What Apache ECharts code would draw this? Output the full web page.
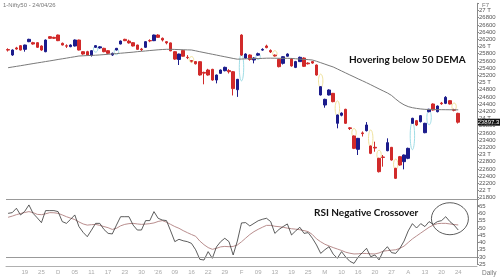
<!DOCTYPE html>
<html><head><meta charset="utf-8">
<script src="https://cdn.jsdelivr.net/npm/echarts@6/dist/echarts.min.js"></script>
<style>html,body{margin:0;padding:0;background:#fff}#c{width:500px;height:280px}</style>
</head><body><div id="c"></div>
<script>
const tickLabels = ['19','25','D','05','11','17','23','30',"'26",'09','16','22','29','F','09','13','19','25','M','10','16','20','27','A','13','20','24'];
const opens = [25915,25764,25960,26023,25921,26134,26106,26106,26014,25856,26273,26254,26319,26088,26020,25995,26014,26180,25856,25856,25750,25977,25960,25949,25884,25764,25902,26069,26199,26150,26106,26041,25930,25977,26165,26162,26319,26227,26134,26100,25856,25640,25890,25700,25610,25580,25578,25280,25347,25365,25069,25254,25328,25330,25300,24800,26319,25680,25764,25625,25760,25900,26014,25890,25760,25643,25532,25730,25650,25420,25580,25680,25540,25580,25486,24653,24375,24653,24699,23866,24090,24255,23740,23514,23143,23600,23662,23236,23200,22893,22930,23106,23199,22616,22940,22801,22893,23866,23940,23912,23606,24190,24403,24190,24430,24421,24495,24240,24143];
const closes = [25900,25902,25930,25902,26041,26199,26069,25977,25902,26180,26227,26227,26162,26041,26010,26041,26180,25902,25791,25764,25884,26023,25990,25856,25810,25810,25949,26152,26162,26100,26014,25921,25910,26134,26155,26319,26254,26180,26100,25880,25650,25790,25730,25690,25590,25520,25208,25260,25208,25069,25208,25347,25421,25300,24830,25088,25764,25791,25640,25680,25800,25920,25970,25850,25740,25440,25717,25791,25460,25580,25700,25450,25520,25540,25208,24884,24532,24792,24468,24097,24150,23866,23720,23171,23449,23580,23820,23032,23180,22523,22920,23329,22847,22338,22708,22986,23171,24005,23819,24079,23866,24255,24236,24347,24410,24588,24403,24230,23897.3];
const lows = [25860,25740,25910,25890,25856,26120,26050,25960,25880,25840,26210,26210,26150,26030,25960,25980,26000,25890,25770,25750,25720,25960,25940,25840,25795,25740,25890,26060,26150,26080,26000,25910,25870,25960,26120,26150,26240,26140,26060,25870,25630,25486,25720,25650,25560,25500,25190,24950,25190,25050,24976,25240,25310,25250,24640,24600,25740,25660,25606,25532,25740,25880,25950,25820,25720,25420,25500,25720,25440,25400,25570,25430,25500,25520,25190,24640,24300,24640,24450,23727,24060,23850,23680,23150,22986,23500,23640,23010,23078,22500,22662,23090,22830,22320,22690,22588,22870,23850,23790,23890,23590,24170,24220,24170,24380,24400,24390,24200,23860];
const highs = [25950,25920,25990,26040,26050,26215,26130,26120,26030,26195,26290,26270,26330,26110,26060,26060,26195,26190,25870,25880,25900,26040,26010,25965,25900,25830,25960,26165,26215,26190,26120,26050,25960,26150,26200,26330,26340,26250,26150,26110,25870,25800,25900,25760,25625,25595,25590,25300,25380,25380,25220,25360,25440,25370,25320,25100,26340,25810,25780,25700,25830,25950,26050,25920,25780,25660,25730,25810,25680,25600,25720,25700,25560,25600,25500,24900,24550,24810,24710,24110,24170,24270,23760,23530,23460,23640,23900,23250,23356,22910,22986,23449,23210,22630,22960,23000,23190,24020,23960,24095,23880,24270,24420,24360,24460,24620,24510,24270,24160];
const dema = [25411,25430,25448,25467,25486,25506,25525,25544,25562,25582,25600,25619,25640,25658,25677,25697,25716,25736,25742,25748,25752,25758,25766,25775,25783,25793,25803,25813,25823,25833,25843,25856,25866,25876,25888,25898,25908,25916,25922,25922,25918,25914,25910,25906,25903,25880,25855,25832,25808,25785,25762,25738,25715,25692,25668,25648,25652,25658,25662,25664,25666,25670,25675,25676,25674,25672,25671,25672,25668,25660,25650,25642,25635,25625,25590,25550,25510,25470,25431,25376,25320,25265,25210,25156,25100,25048,24994,24938,24880,24822,24766,24710,24640,24540,24450,24380,24330,24300,24280,24265,24255,24250,24248,24246,24245,24244,24243,24242,24240];
const rsi = [60.1,60.6,63.6,59.0,61.5,65.9,60.1,57.0,53.7,62.0,62.0,62.0,61.3,54.4,53.2,56.0,59.0,51.0,47.0,44.0,48.5,53.2,53.2,49.0,46.3,45.9,52.0,57.8,57.8,57.8,52.0,48.6,48.6,55.1,55.1,61.3,56.7,55.5,55.1,48.0,40.6,42.2,41.2,40.6,39.4,35.0,28.4,27.9,33.7,29.1,37.0,40.6,42.9,40.6,31.4,41.0,53.5,53.7,51.4,53.2,55.0,56.0,56.7,54.4,46.3,49.0,51.0,52.8,45.2,48.0,50.5,46.3,46.8,43.0,38.3,32.5,35.0,37.1,32.0,29.1,33.7,30.0,27.0,25.6,30.0,33.0,36.0,30.2,31.4,28.0,34.0,37.1,33.0,32.5,36.0,41.0,48.0,53.0,50.0,53.0,51.0,54.4,52.5,54.4,55.1,57.8,54.4,52.0,48.6];
const rsiSignal = [57.4,58.2,59.2,60.0,60.7,61.3,60.6,59.4,59.2,59.8,60.6,60.5,60.1,59.0,57.8,56.8,55.8,54.2,52.8,52.0,52.3,52.5,51.8,51.0,50.2,49.0,49.8,51.5,52.5,53.0,53.2,52.8,52.5,52.7,53.0,53.5,54.5,55.1,54.0,52.5,51.0,49.8,48.2,46.8,45.5,44.3,41.0,38.5,36.5,35.3,36.0,37.0,37.3,37.1,37.3,38.3,40.5,43.0,45.5,47.5,49.1,50.5,51.8,51.8,51.2,50.9,50.5,49.9,49.5,49.2,48.8,48.2,47.5,45.5,42.5,40.5,38.8,37.6,36.5,35.5,34.5,33.3,32.6,32.1,32.2,32.5,32.4,32.2,32.1,32.8,34.0,34.4,34.7,35.0,36.0,37.5,40.0,42.5,44.5,46.5,48.5,50.5,52.0,53.0,53.2,53.2,52.8,52.4,52.1];
const gapUp = [21,26,56,60,97,101];
const gapDown = [44,64,75,79,83,87,89,93,107];

const N = 113;
const cats = Array.from({length: N}, (_, i) => {
  const k = (i - 4) / 4;
  return (i >= 4 && Number.isInteger(k) && k < tickLabels.length) ? tickLabels[k] : '';
});
const showIdx = (i) => cats[i] !== '';
const candles = opens.map((o, i) => [o, closes[i], lows[i], highs[i]]);
const UP = '#1c1c8c', DOWN = '#d12a2a';
const FONT = 'Liberation Sans, Arial, sans-serif';

const chart = echarts.init(document.getElementById('c'), null, {renderer: 'canvas'});
chart.setOption({
  animation: false,
  backgroundColor: '#fff',
  grid: [
    {left: 6, width: 471, top: 3.3, height: 201.6},
    {left: 6, width: 471, top: 199, height: 65.25}
  ],
  xAxis: [
    {type: 'category', gridIndex: 0, data: cats, show: false},
    {type: 'category', gridIndex: 1, data: cats, offset: 2,
     axisLine: {lineStyle: {color: '#b0b0b0'}},
     axisTick: {alignWithLabel: true, interval: showIdx, length: 2, lineStyle: {color: '#c8c8c8'}},
     axisLabel: {interval: showIdx, fontSize: 6, color: '#aaa', margin: 3, fontFamily: FONT}}
  ],
  yAxis: [
    {type: 'value', gridIndex: 0, position: 'right', min: 21600, max: 27200, interval: 200, scale: true,
     axisLine: {show: true, lineStyle: {color: '#888'}},
     axisTick: {show: true, length: 2, lineStyle: {color: '#888'}},
     splitLine: {show: false},
     axisLabel: {fontSize: 6, color: '#555', margin: 2, fontFamily: FONT,
       formatter: v => (v < 21800 || v > 27000) ? '' : (v % 1000 === 0 ? (v / 1000) + ' T' : String(v))}},
    {type: 'value', gridIndex: 1, position: 'right', min: 25, max: 70, interval: 5,
     axisLine: {show: true, lineStyle: {color: '#888'}},
     axisTick: {show: true, length: 2, lineStyle: {color: '#888'}},
     splitLine: {show: false},
     axisLabel: {fontSize: 6, color: '#555', margin: 2, fontFamily: FONT,
       formatter: v => v >= 70 ? '' : String(v)}}
  ],
  series: [
    {type: 'candlestick', xAxisIndex: 0, yAxisIndex: 0, data: candles, barWidth: 3,
     itemStyle: {color: UP, color0: DOWN, borderColor: UP, borderColor0: DOWN, borderWidth: 1}},
    {type: 'line', xAxisIndex: 0, yAxisIndex: 0, data: dema, showSymbol: false, symbol: 'none',
     lineStyle: {color: '#7a7a7a', width: 1}},
    {type: 'line', xAxisIndex: 1, yAxisIndex: 1, data: rsiSignal, showSymbol: false, symbol: 'none',
     lineStyle: {color: '#b98e8e', width: 1}},
    {type: 'line', xAxisIndex: 1, yAxisIndex: 1, data: rsi, showSymbol: false, symbol: 'none',
     lineStyle: {color: '#333', width: 0.8},
     markLine: {silent: true, symbol: 'none', label: {show: false},
       lineStyle: {color: '#999', width: 1, type: 'solid'},
       data: [{yAxis: 70}, {yAxis: 30}]}}
  ]
});

const px = (i, v) => chart.convertToPixel({gridIndex: 0}, [i, v]);
const g = [];
gapUp.forEach(i => {
  const a = px(i - 0.5, highs[i - 1]), b = px(i - 0.5, lows[i]);
  g.push({type: 'ellipse', silent: true, shape: {cx: a[0], cy: (a[1] + b[1]) / 2, rx: 2.2, ry: Math.max(3, Math.abs(a[1] - b[1]) / 2 + 2)},
    style: {fill: null, stroke: '#9fdde6', lineWidth: 1}});
});
gapDown.forEach(i => {
  const a = px(i - 0.5, lows[i - 1]), b = px(i - 0.5, highs[i]);
  g.push({type: 'ellipse', silent: true, shape: {cx: a[0], cy: (a[1] + b[1]) / 2, rx: 2.2, ry: Math.max(3, Math.abs(a[1] - b[1]) / 2 + 1.5)},
    style: {fill: null, stroke: '#f0e29a', lineWidth: 1}});
});
const last = closes[closes.length - 1];
const lp = px(closes.length - 1, last);
g.push({type: 'rect', silent: true, shape: {x: 477, y: lp[1] - 3.5, width: 23, height: 7}, style: {fill: '#111'}});
g.push({type: 'text', silent: true, x: 488.5, y: lp[1], style: {text: last.toFixed(1), fill: '#fff', fontSize: 6, fontFamily: FONT, align: 'center', verticalAlign: 'middle'}});
const ec = chart.convertToPixel({gridIndex: 1}, [106.4, 56.4]);
g.push({type: 'ellipse', silent: true, shape: {cx: ec[0], cy: ec[1], rx: 18.5, ry: 16}, style: {fill: null, stroke: '#333', lineWidth: 0.8}});
g.push({type: 'text', silent: true, x: 3, y: 2, style: {text: '1-Nifty50 - 24/04/26', fill: '#777', fontSize: 6, fontFamily: FONT}});
g.push({type: 'text', silent: true, x: 482, y: 2, style: {text: 'F7', fill: '#777', fontSize: 6, fontFamily: FONT}});
g.push({type: 'text', silent: true, x: 482, y: 270, style: {text: 'Daily', fill: '#777', fontSize: 6.5, fontFamily: FONT}});
g.push({type: 'text', silent: true, x: 349, y: 60, style: {text: 'Hovering below 50 DEMA', fill: '#111', fontSize: 10, fontWeight: 'bold', fontFamily: 'Lato, sans-serif', verticalAlign: 'middle'}});
g.push({type: 'text', silent: true, x: 314, y: 212.5, style: {text: 'RSI Negative Crossover', fill: '#111', fontSize: 10, fontWeight: 'bold', fontFamily: 'Lato, sans-serif', verticalAlign: 'middle'}});
chart.setOption({graphic: g});
</script></body></html>
